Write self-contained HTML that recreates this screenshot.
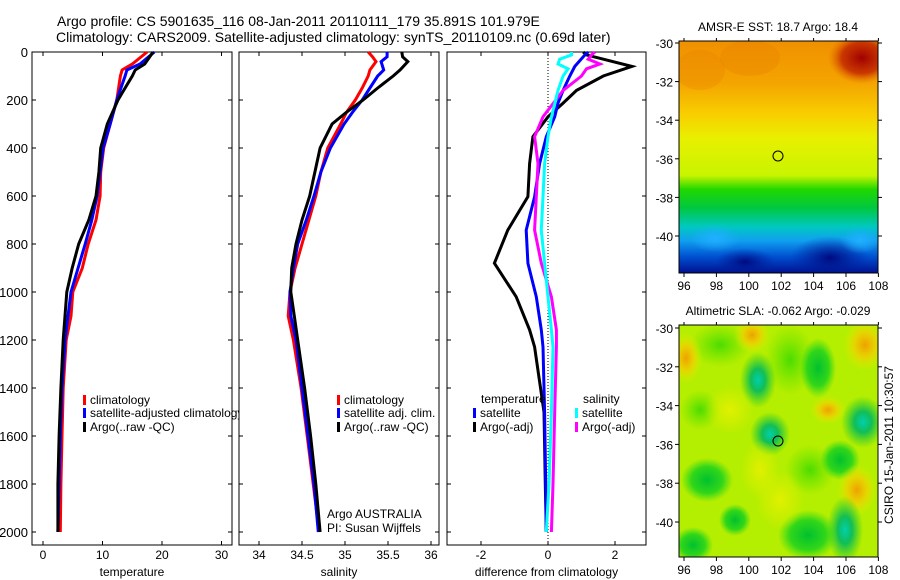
<!DOCTYPE html>
<html><head><meta charset="utf-8"><style>
html,body{margin:0;padding:0;background:#fff;}
svg{display:block;font-family:"Liberation Sans",sans-serif;}
text{fill:#000;}
</style></head><body>
<svg id="fig" width="900" height="580" viewBox="0 0 900 580" xmlns="http://www.w3.org/2000/svg">
<defs>
<linearGradient id="sstg" x1="0" y1="0" x2="0" y2="1">
<stop offset="0" stop-color="#f09000"/>
<stop offset="0.18" stop-color="#f4a400"/>
<stop offset="0.32" stop-color="#f8d000"/>
<stop offset="0.42" stop-color="#e8f000"/>
<stop offset="0.58" stop-color="#c8f400"/>
<stop offset="0.64" stop-color="#20d800"/>
<stop offset="0.72" stop-color="#00c840"/>
<stop offset="0.80" stop-color="#00c8c0"/>
<stop offset="0.86" stop-color="#10a0f0"/>
<stop offset="0.93" stop-color="#0050d0"/>
<stop offset="1" stop-color="#001090"/>
</linearGradient>
<radialGradient id="redblob"><stop offset="0" stop-color="#a00000"/><stop offset="0.6" stop-color="#c02000" stop-opacity="0.8"/><stop offset="1" stop-color="#e06000" stop-opacity="0"/></radialGradient>
<radialGradient id="dkblob"><stop offset="0" stop-color="#000a80"/><stop offset="1" stop-color="#0020a0" stop-opacity="0"/></radialGradient>
<radialGradient id="ltblue"><stop offset="0" stop-color="#20b0ff"/><stop offset="1" stop-color="#20b0ff" stop-opacity="0"/></radialGradient>
<radialGradient id="gblob"><stop offset="0" stop-color="#00c030"/><stop offset="0.6" stop-color="#10d020" stop-opacity="0.8"/><stop offset="1" stop-color="#20d820" stop-opacity="0"/></radialGradient>
<radialGradient id="lgblob"><stop offset="0" stop-color="#30d800" stop-opacity="0.8"/><stop offset="1" stop-color="#50e000" stop-opacity="0"/></radialGradient>
<radialGradient id="tblob"><stop offset="0" stop-color="#00d0b0"/><stop offset="0.4" stop-color="#00b860" stop-opacity="0.9"/><stop offset="1" stop-color="#10c830" stop-opacity="0"/></radialGradient>
<radialGradient id="oblob"><stop offset="0" stop-color="#f0a000"/><stop offset="0.5" stop-color="#f0d000" stop-opacity="0.8"/><stop offset="1" stop-color="#e0f000" stop-opacity="0"/></radialGradient>
<radialGradient id="yblob"><stop offset="0" stop-color="#e0f000"/><stop offset="1" stop-color="#e0f000" stop-opacity="0"/></radialGradient>
<clipPath id="c1"><rect x="679" y="41" width="199" height="232"/></clipPath>
<clipPath id="c2"><rect x="679" y="325" width="199" height="232"/></clipPath>
</defs>

<text x="57" y="26" font-size="14">Argo profile: CS 5901635_116 08-Jan-2011 20110111_179 35.891S 101.979E</text>
<text x="56" y="42" font-size="14">Climatology: CARS2009. Satellite-adjusted climatology: synTS_20110109.nc (0.69d later)</text>

<g id="p1"></g>
<g id="p2"></g>
<g id="p3"></g>

<g>
<text x="778" y="31" font-size="12" text-anchor="middle">AMSR-E SST: 18.7 Argo: 18.4</text>
<g clip-path="url(#c1)">
<rect x="679" y="41" width="199" height="232" fill="url(#sstg)"/>
<ellipse cx="862" cy="58" rx="34" ry="26" fill="url(#redblob)"/>
<ellipse cx="750" cy="58" rx="30" ry="18" fill="#e88000" opacity="0.35"/>
<ellipse cx="700" cy="70" rx="25" ry="20" fill="#e88000" opacity="0.3"/>
<ellipse cx="830" cy="258" rx="40" ry="22" fill="url(#dkblob)"/>
<ellipse cx="745" cy="262" rx="30" ry="14" fill="url(#dkblob)"/>
<ellipse cx="715" cy="238" rx="25" ry="14" fill="url(#ltblue)"/>
<ellipse cx="860" cy="240" rx="20" ry="14" fill="url(#ltblue)"/>
</g>
<rect x="679" y="41" width="199" height="232" fill="none" stroke="#000"/>
<circle cx="778" cy="156" r="5" fill="none" stroke="#000"/>
<g id="m1axes"></g>
</g>

<g>
<text x="778" y="315" font-size="12" text-anchor="middle">Altimetric SLA: -0.062 Argo: -0.029</text>
<g clip-path="url(#c2)">
<rect x="679" y="325" width="199" height="232" fill="#b4ee00"/>
<ellipse cx="720" cy="345" rx="30" ry="22" fill="url(#lgblob)"/>
<ellipse cx="790" cy="360" rx="25" ry="35" fill="url(#lgblob)"/>
<ellipse cx="700" cy="410" rx="20" ry="20" fill="url(#lgblob)"/>
<ellipse cx="810" cy="470" rx="25" ry="25" fill="url(#lgblob)"/>
<ellipse cx="686" cy="358" rx="16" ry="26" fill="url(#oblob)"/>
<ellipse cx="752" cy="335" rx="18" ry="18" fill="url(#oblob)"/>
<ellipse cx="865" cy="345" rx="22" ry="26" fill="url(#oblob)"/>
<ellipse cx="758" cy="380" rx="18" ry="28" fill="url(#tblob)"/>
<ellipse cx="818" cy="368" rx="18" ry="30" fill="url(#gblob)"/>
<ellipse cx="770" cy="434" rx="20" ry="22" fill="url(#tblob)"/>
<ellipse cx="863" cy="422" rx="22" ry="26" fill="url(#tblob)"/>
<ellipse cx="828" cy="410" rx="18" ry="14" fill="url(#oblob)"/>
<ellipse cx="840" cy="460" rx="20" ry="20" fill="url(#gblob)"/>
<ellipse cx="857" cy="490" rx="20" ry="26" fill="url(#oblob)"/>
<ellipse cx="707" cy="480" rx="26" ry="22" fill="url(#gblob)"/>
<ellipse cx="735" cy="520" rx="16" ry="16" fill="url(#gblob)"/>
<ellipse cx="845" cy="530" rx="18" ry="34" fill="url(#tblob)"/>
<ellipse cx="808" cy="535" rx="30" ry="25" fill="url(#gblob)"/>
<ellipse cx="693" cy="545" rx="20" ry="18" fill="url(#gblob)"/>
<ellipse cx="780" cy="500" rx="25" ry="30" fill="url(#yblob)"/>
<ellipse cx="730" cy="410" rx="25" ry="25" fill="url(#yblob)"/>
<ellipse cx="760" cy="470" rx="20" ry="30" fill="url(#yblob)"/>
</g>
<rect x="679" y="325" width="199" height="232" fill="none" stroke="#000"/>
<circle cx="778" cy="441" r="5" fill="none" stroke="#000"/>
<g id="m2axes"></g>
<text font-size="12" transform="translate(893,445) rotate(-90)" text-anchor="middle">CSIRO 15-Jan-2011 10:30:57</text>
</g>
</svg>
<script>
var NS='http://www.w3.org/2000/svg';
// ---- data ----
var depthsT=[0,50,75,100,150,200,300,400,500,600,700,800,900,1000,1100,1200,1400,1600,1800,2000];
var tempClim=[17.5,15.0,13.3,13.0,12.7,12.4,11.3,10.2,9.7,9.6,8.9,7.6,6.6,5.0,4.7,3.9,3.4,3.2,3.0,2.9];
var tempSat=[18.7,16.3,14.1,13.8,13.1,12.4,11.3,10.1,9.6,9.1,8.2,7.1,5.9,4.7,4.2,3.7,3.2,2.9,2.7,2.5];
var tempArgo=[18.5,17.1,15.5,15.0,13.8,12.6,10.8,9.7,9.4,8.9,7.7,6.0,4.9,4.0,3.7,3.4,3.0,2.7,2.5,2.5];
var depthsS=[0,20,40,75,100,150,200,250,300,400,500,600,700,800,900,1000,1100,1200,1400,1600,1800,2000];
var salClim=[35.27,35.32,35.36,35.29,35.27,35.2,35.12,35.02,34.95,34.8,34.72,34.66,34.58,34.5,34.42,34.36,34.34,34.4,34.49,34.56,34.63,34.7];
var salSat=[35.49,35.49,35.42,35.45,35.38,35.29,35.2,35.09,34.99,34.83,34.72,34.64,34.55,34.45,34.4,34.36,34.37,34.43,34.5,34.57,34.64,34.69];
var salArgo=[35.66,35.67,35.73,35.64,35.56,35.38,35.21,35.02,34.85,34.71,34.65,34.59,34.5,34.43,34.38,34.37,34.41,34.45,34.53,34.6,34.66,34.71];
var depthsD=[0,12,60,100,160,213,270,353,465,603,742,880,1020,1158,1229,1500,1800,2000];
var diffTempArgo=[1.05,1.15,2.5,1.65,0.85,0.45,0.0,-0.45,-0.55,-0.6,-1.2,-1.6,-0.95,-0.55,-0.4,-0.12,-0.08,-0.05];
var diffTempSat=[1.2,1.1,0.8,0.65,0.45,0.3,0.2,-0.05,-0.25,-0.4,-0.65,-0.6,-0.35,-0.2,-0.15,-0.1,-0.07,-0.05];
var depthsDS=[0,12,30,50,70,100,160,270,353,465,603,742,880,1020,1158,1229,1500,1800,2000];
var diffSalSat=[0.7,0.7,0.35,0.3,0.6,0.45,0.3,0.1,0.0,-0.1,-0.15,-0.2,-0.1,0.0,0.1,0.15,0.1,0.03,-0.05];
var diffSalArgo=[1.4,1.3,1.2,1.55,1.15,1.0,0.45,-0.15,-0.4,-0.3,-0.35,-0.4,-0.2,0.1,0.25,0.25,0.2,0.15,0.1];
var depthTicks=[0,200,400,600,800,1000,1200,1400,1600,1800,2000];
var tempTicks=[0,10,20,30];
var salTicks=[34,34.5,35,35.5,36];
var diffTicks=[-2,0,2];
var lonTicks=[96,98,100,102,104,106,108];
var latTicks=[-30,-32,-34,-36,-38,-40];

function el(tag,attrs,parent){var e=document.createElementNS(NS,tag);for(var k in attrs)e.setAttribute(k,attrs[k]);parent.appendChild(e);return e;}
function yD(d){return 52+d*0.24;}
var TOP=52,BOT=545;
function panel(g,x0,x1,xf,ticks,label,leftLabels,name){
  var f=el('rect',{x:x0,y:TOP,width:x1-x0,height:BOT-TOP,fill:'none',stroke:'#000','stroke-width':1},g);
  
  
  depthTicks.forEach(function(d){
    var y=yD(d);
    el('line',{x1:x0,x2:x0+4,y1:y,y2:y,stroke:'#000'},g);
    el('line',{x1:x1,x2:x1-4,y1:y,y2:y,stroke:'#000'},g);
    if(leftLabels){var t=el('text',{x:x0-4,y:y+5,'font-size':13,'text-anchor':'end'},g);t.textContent=d;
      
      }
  });
  ticks.forEach(function(v){
    var x=xf(v);
    el('line',{x1:x,x2:x,y1:BOT,y2:BOT-4,stroke:'#000'},g);
    el('line',{x1:x,x2:x,y1:TOP,y2:TOP+4,stroke:'#000'},g);
    var t=el('text',{x:x,y:BOT+14,'font-size':12,'text-anchor':'middle'},g);t.textContent=v;
    
    
  });
  var xl=el('text',{x:(x0+x1)/2,y:BOT+31,'font-size':12,'text-anchor':'middle'},g);xl.textContent=label;
  
  
}
function line(g,xs,ds,xf,color,name){
  var pts=xs.map(function(v,i){return xf(v).toFixed(1)+','+yD(ds[i]).toFixed(1);}).join(' ');
  var p=el('polyline',{points:pts,fill:'none',stroke:color,'stroke-width':3,'stroke-linejoin':'miter'},g);
  
  
}
function legend(g,x,y,color,txt,name){
  var r=el('rect',{x:x,y:y-9,width:3,height:10,fill:color},g);
  
  
  var t=el('text',{x:x+7,y:y,'font-size':12},g);t.textContent=txt;
  
  
}
function txt(g,x,y,s,name){var t=el('text',{x:x,y:y,'font-size':12},g);t.textContent=s;
  
  }

// temperature panel
var g1=document.getElementById('p1');
var xT=function(v){return 43+v*5.95;};
panel(g1,32,232,xT,tempTicks,'temperature',true,'temperature');
line(g1,tempClim,depthsT,xT,'#f00','temp-climatology-line');
line(g1,tempSat,depthsT,xT,'#00f','temp-satellite-line');
line(g1,tempArgo,depthsT,xT,'#000','temp-argo-line');
legend(g1,83,404,'#f00','climatology','legend-climatology');
legend(g1,83,417,'#00f','satellite-adjusted climatology','legend-satellite-adjusted');
legend(g1,83,431,'#000','Argo(..raw -QC)','legend-argo');
el('rect',{x:239,y:405,width:12,height:16,fill:'#fff'},g1);
el('line',{x1:239,x2:239,y1:404,y2:422,stroke:'#000'},g1);

// salinity panel
var g2=document.getElementById('p2');
var xS=function(v){return 259+(v-34)*86;};
panel(g2,239,439,xS,salTicks,'salinity',false,'salinity');
line(g2,salClim,depthsS,xS,'#f00','sal-climatology-line');
line(g2,salSat,depthsS,xS,'#00f','sal-satellite-line');
line(g2,salArgo,depthsS,xS,'#000','sal-argo-line');
legend(g2,337,404,'#f00','climatology','legend-sal-climatology');
legend(g2,337,417,'#00f','satellite adj. clim.','legend-sal-satellite');
legend(g2,337,431,'#000','Argo(..raw -QC)','legend-sal-argo');
txt(g2,327,518,'Argo AUSTRALIA','credit-argo-australia');
txt(g2,327,532,'PI: Susan Wijffels','credit-pi');

// difference panel
var g3=document.getElementById('p3');
var xDf=function(v){return 548+v*33.5;};
panel(g3,447,646,xDf,diffTicks,'difference from climatology',false,'difference');
el('line',{x1:xDf(0),x2:xDf(0),y1:TOP,y2:BOT,stroke:'#000','stroke-dasharray':'1,2'},g3);
line(g3,diffTempArgo,depthsD,xDf,'#000','diff-temp-argo-line');
line(g3,diffTempSat,depthsD,xDf,'#00f','diff-temp-satellite-line');
line(g3,diffSalArgo,depthsDS,xDf,'#f0f','diff-sal-argo-line');
line(g3,diffSalSat,depthsDS,xDf,'#0ff','diff-sal-satellite-line');
txt(g3,481,403,'temperature','legend-temperature-heading');
txt(g3,583,403,'salinity','legend-salinity-heading');
legend(g3,473,417,'#00f','satellite','legend-diff-temp-satellite');
legend(g3,473,431,'#000','Argo(-adj)','legend-diff-temp-argo');
legend(g3,575,417,'#0ff','satellite','legend-diff-sal-satellite');
legend(g3,575,431,'#f0f','Argo(-adj)','legend-diff-sal-argo');

// map axes
function mapAxes(id,top,bottom,lat30,lat40){
  var g=document.getElementById(id);
  var xf=function(lon){return 684+(lon-96)*16.2;};
  var yf=function(lat){return lat30+(-30-lat)*(lat40-lat30)/10;};
  lonTicks.forEach(function(v){var x=xf(v);
    el('line',{x1:x,x2:x,y1:bottom,y2:bottom+4,stroke:'#000'},g);
    el('line',{x1:x,x2:x,y1:top,y2:top-3,stroke:'#000'},g);
    var t=el('text',{x:x,y:bottom+17,'font-size':12,'text-anchor':'middle'},g);t.textContent=v;
    
    
  });
  latTicks.forEach(function(v){var y=yf(v);
    el('line',{x1:675,x2:679,y1:y,y2:y,stroke:'#000'},g);
    el('line',{x1:878,x2:882,y1:y,y2:y,stroke:'#000'},g);
    var t=el('text',{x:673,y:y+5,'font-size':12,'text-anchor':'end'},g);t.textContent=v;
    
    
  });
}
mapAxes('m1axes',41,273,43,236);
mapAxes('m2axes',325,557,328,522);
</script>
</body></html>
